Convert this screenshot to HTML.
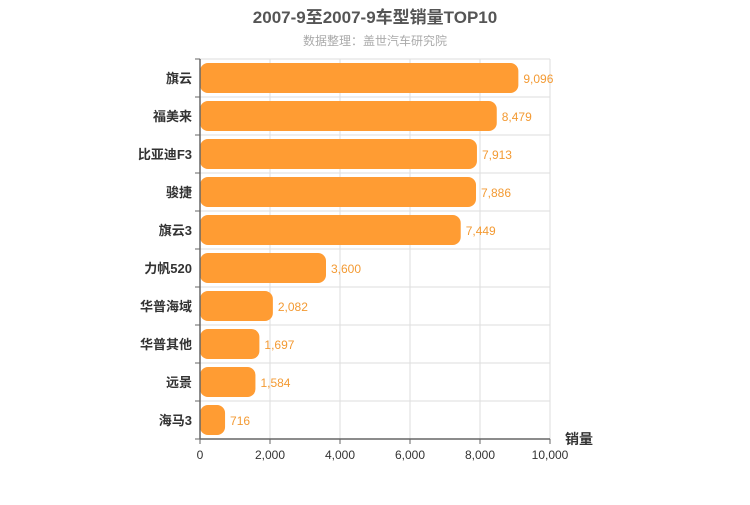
<!DOCTYPE html>
<html><head><meta charset="utf-8"><style>
body{margin:0;background:#fff}
svg text{font-family:"Liberation Sans","Noto Sans CJK SC",sans-serif}
</style></head><body>
<svg id="chart" width="750" height="500" xmlns="http://www.w3.org/2000/svg">
<text x="375" y="23" text-anchor="middle" font-size="17" font-weight="bold" fill="#555">2007-9至2007-9车型销量TOP10</text>
<text x="375" y="45" text-anchor="middle" font-size="12" fill="#aaa">数据整理：盖世汽车研究院</text>
<g id="grid"></g><g id="bars"></g><g id="axes"></g>
<text x="565" y="444" font-size="14" font-weight="bold" fill="#333">销量</text>
</svg>
<script>
const categories=["旗云","福美来","比亚迪F3","骏捷","旗云3","力帆520","华普海域","华普其他","远景","海马3"];
const values=[9096,8479,7913,7886,7449,3600,2082,1697,1584,716];
const ticks=[0,2000,4000,6000,8000,10000];
const tickLabels=["0","2,000","4,000","6,000","8,000","10,000"];
const NS="http://www.w3.org/2000/svg";
const x0=200,x1=550,yTop=59,yBot=439,max=10000;
const band=(yBot-yTop)/categories.length;
const xs=v=>x0+(v/max)*(x1-x0);
function mk(t,a,p){const e=document.createElementNS(NS,t);for(const k in a)e.setAttribute(k,a[k]);p.appendChild(e);return e;}
const g=document.getElementById('grid'),b=document.getElementById('bars'),ax=document.getElementById('axes');
const fmt=v=>v.toString().replace(/\B(?=(\d{3})+(?!\d))/g,",");
ticks.forEach((t,i)=>{
 const l=mk('line',{x1:xs(t),x2:xs(t),y1:yTop,y2:yBot,stroke:'#ddd'},g);
 
 
 const tk=mk('line',{x1:xs(t),x2:xs(t),y1:yBot,y2:yBot+5,stroke:'#666'},ax);
 
 
 const tx=mk('text',{x:xs(t),y:yBot+20,'text-anchor':'middle','font-size':12,fill:'#333'},ax);
 tx.textContent=tickLabels[i];
 
 
});
for(let i=0;i<=categories.length;i++){
 const y=yTop+i*band;
 const l=mk('line',{x1:x0,x2:x1,y1:y,y2:y,stroke:'#ddd'},g);
 
 
 const tk=mk('line',{x1:x0-5,x2:x0,y1:y,y2:y,stroke:'#666'},ax);
 
 
}
categories.forEach((c,i)=>{
 const yc=yTop+band*(i+0.5);
 const r=mk('rect',{x:x0,y:yc-15,width:Math.max(0,xs(values[i])-x0),height:30,rx:8,ry:8,fill:'#ff9c33'},b);
 
 
 const v=mk('text',{x:xs(values[i])+5,y:yc+5,'font-size':12,fill:'#f39a33'},b);
 v.textContent=fmt(values[i]);
 
 
 const t=mk('text',{x:x0-8,y:yc+5,'text-anchor':'end','font-size':13,'font-weight':'bold',fill:'#333'},ax);
 t.textContent=c;
 
 
});
const ya=mk('line',{x1:x0,x2:x0,y1:yTop,y2:yBot,stroke:'#666','stroke-width':1.5},ax);


const xa=mk('line',{x1:x0,x2:x1,y1:yBot,y2:yBot,stroke:'#666','stroke-width':1.5},ax);


</script>
</body></html>
